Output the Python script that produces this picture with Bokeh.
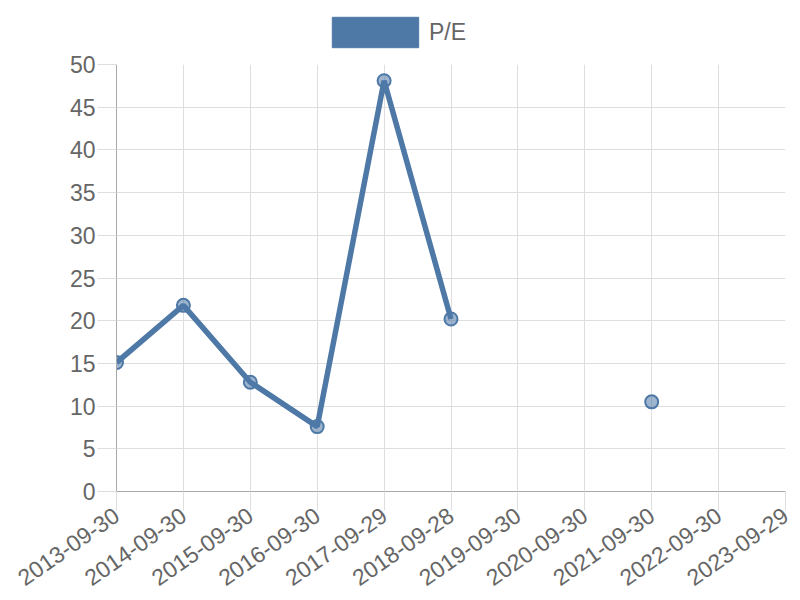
import numpy as np
from bokeh.plotting import figure
from bokeh.layouts import column
from bokeh.models import (Range1d, FixedTicker, Legend, LegendItem, ColumnDataSource)
from bokeh.embed import file_html
from bokeh.resources import INLINE

dates = ["2013-09-30", "2014-09-30", "2015-09-30", "2016-09-30", "2017-09-29",
         "2018-09-28", "2019-09-30", "2020-09-30", "2021-09-30", "2022-09-30",
         "2023-09-29"]
pe = [15.1, 21.8, 12.8, 7.6, 48.1, 20.2, None, None, 10.5, None, None]
y_ticks = [0, 5, 10, 15, 20, 25, 30, 35, 40, 45, 50]

idx = list(range(len(dates)))
vals = [np.nan if v is None else v for v in pe]
src = ColumnDataSource(dict(x=idx, y=vals))

BLUE = "#4e79a7"
GRID = "#dedede"
AXIS = "#a8a8a8"
TXT = "#666666"
FONT = "Liberation Sans"
FS = "23px"

# ---- legend strip ----
lg = figure(width=800, height=52, output_backend="svg", toolbar_location=None,
            x_axis_type=None, y_axis_type=None,
            x_range=Range1d(0, 1), y_range=Range1d(0, 1),
            min_border=0)
lg.outline_line_color = None
proxy = lg.rect(x=[np.nan], y=[np.nan], width=1, height=1, fill_color=BLUE,
                line_color=BLUE, line_width=1)
legend = Legend(items=[LegendItem(label="P/E", renderers=[proxy])],
                orientation="horizontal", location=(205, 1),
                glyph_width=108, glyph_height=38, label_standoff=-1,
                label_height=38,
                label_text_font=FONT, label_text_font_size=FS,
                label_text_color=TXT, border_line_color=None,
                background_fill_alpha=0, padding=0, margin=0, spacing=0)
lg.add_layout(legend, "center")

# ---- main chart ----
p = figure(width=800, height=548, output_backend="svg", toolbar_location=None,
           x_range=Range1d(0, len(dates) - 1), y_range=Range1d(0, 50),
           min_border_left=116, min_border_right=15, min_border_top=12,
           min_border_bottom=109)
p.outline_line_color = None
p.background_fill_color = "white"
p.border_fill_color = "white"

p.line("x", "y", source=src, line_color=BLUE, line_width=5.5)
p.scatter("x", "y", source=src, size=13, fill_color=BLUE, fill_alpha=0.55,
          line_color=BLUE, line_width=2)

p.xaxis.ticker = FixedTicker(ticks=idx)
p.xaxis.major_label_overrides = {i: d for i, d in zip(idx, dates)}
p.xaxis.major_label_orientation = 0.61
p.yaxis.ticker = FixedTicker(ticks=y_ticks)
for ax in (p.xaxis[0], p.yaxis[0]):
    ax.axis_line_color = AXIS
    ax.axis_line_width = 1
    ax.major_tick_line_color = GRID
    ax.major_tick_in = 0
    ax.major_tick_out = 19
    ax.minor_tick_line_color = None
    ax.major_label_text_font = FONT
    ax.major_label_text_font_size = FS
    ax.major_label_text_color = TXT
p.xaxis.major_label_standoff = 2
p.yaxis.major_label_standoff = 2

p.xgrid.grid_line_color = GRID
p.ygrid.grid_line_color = GRID
p.xgrid.ticker = FixedTicker(ticks=idx)
p.ygrid.ticker = FixedTicker(ticks=y_ticks)

open("out.html", "w").write(file_html(column(lg, p, spacing=0), INLINE))
